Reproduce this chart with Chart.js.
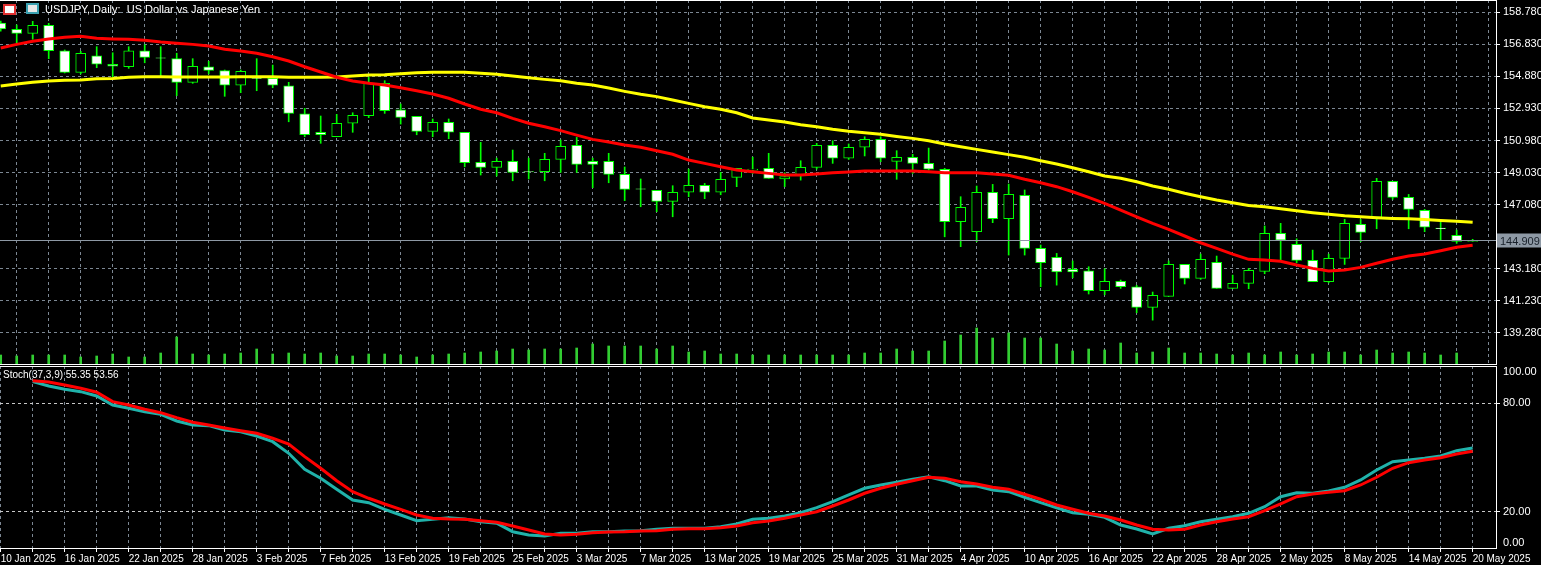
<!DOCTYPE html>
<html>
<head>
<meta charset="utf-8">
<script src="https://cdn.jsdelivr.net/npm/chart.js@4.4.1/dist/chart.umd.min.js"></script>
<style>
    body { margin: 0; background: #000; width: 1541px; height: 565px; overflow: hidden; position: relative; font-family: 'Liberation Sans', Arial, sans-serif; }
    canvas { position: absolute; left: 0; }
    #priceChart { top: 0; }
    #stochChart { top: 366px; }
    .lbl { position: absolute; color: #fff; font-size: 11px; white-space: pre; }
    .ico { position: absolute; width: 13px; height: 11px; box-sizing: border-box; }
</style>
</head>
<body>
<canvas id="priceChart" width="1541" height="365"></canvas>
<canvas id="stochChart" width="1541" height="199"></canvas>
<div class="ico" style="left:3px;top:4px;border:2px solid #e03030;background:#fff;"></div>
<div class="ico" style="left:26px;top:3px;border:2px solid #3aa0b0;background:#e8e8e8;"></div>
<div class="lbl" style="left:45px;top:3px;">USDJPY, Daily:  US Dollar vs Japanese Yen</div>
<div class="lbl" style="left:3px;top:369px;font-size:10px;">Stoch(37,3,9) 55.35 53.56</div>
<script>
// Daily candles, 10 Jan 2025 .. 20 May 2025 (93 bars)
const open = [158.13,157.75,157.50,157.99,156.44,155.13,156.14,155.62,155.47,156.44,
    156.01,155.96,154.52,155.47,155.23,154.34,154.80,154.76,154.31,152.61,
    151.48,151.21,152.03,152.49,154.46,152.84,152.45,151.54,152.09,151.48,
    149.65,149.35,149.71,149.09,149.08,149.83,150.69,149.71,149.71,148.92,
    148.04,147.95,147.28,147.83,148.25,147.83,148.74,149.18,149.29,148.65,
    148.86,149.35,150.69,149.90,150.57,151.05,149.71,149.96,149.59,149.23,
    146.04,145.43,147.83,146.22,147.64,144.42,143.87,143.14,143.05,141.84,
    142.41,142.08,140.83,141.50,143.44,142.59,143.57,141.98,142.29,143.02,
    145.33,144.66,143.69,142.39,143.81,145.88,146.30,148.50,147.52,146.73,
    145.65,145.21,144.84];
const high = [158.25,158.01,158.23,158.11,156.49,156.41,156.69,156.32,156.69,156.81,
    156.69,156.29,155.96,155.80,155.27,155.27,155.96,155.57,154.52,152.94,
    152.47,152.57,152.67,154.83,154.62,153.20,152.45,152.29,152.29,151.48,
    150.87,149.91,150.40,149.91,150.20,151.01,151.17,149.91,150.20,149.37,
    148.64,147.95,148.23,149.24,148.37,149.04,149.29,149.97,150.20,149.02,
    149.75,150.81,150.97,150.77,151.21,151.21,150.36,150.14,150.52,149.29,
    147.56,148.21,148.31,148.33,147.97,144.62,144.11,143.65,143.30,143.18,
    142.49,142.17,141.76,143.65,143.44,144.07,143.95,142.79,143.20,145.78,
    145.94,145.00,144.31,144.07,146.18,146.18,148.68,148.50,147.70,146.79,
    146.04,145.53,144.97];
const low = [157.64,156.93,157.14,155.96,155.09,155.03,155.41,154.86,155.37,155.71,
    154.90,153.71,154.46,155.03,153.67,153.89,154.01,154.19,152.12,151.21,
    150.81,151.21,151.48,152.37,152.63,151.98,151.33,151.21,151.09,149.38,
    148.88,148.82,148.53,148.64,148.53,149.04,149.04,148.11,148.41,147.32,
    146.95,146.65,146.34,147.56,147.44,147.68,148.17,148.98,148.68,148.17,
    148.57,149.24,149.59,149.83,150.04,149.69,148.62,148.98,149.18,145.12,
    144.52,144.82,145.98,144.01,144.01,142.08,142.18,142.63,141.64,141.59,
    141.98,140.50,140.05,141.50,142.25,142.53,141.98,141.98,141.96,142.87,
    143.71,143.54,142.39,142.32,143.44,144.82,145.61,147.40,145.61,145.43,
    144.92,144.72,144.84];
const close = [157.77,157.50,157.99,156.44,155.13,156.29,155.62,155.50,156.44,156.04,
    155.99,154.52,155.50,155.25,154.34,155.19,154.76,154.34,152.63,151.33,
    151.33,152.03,152.51,154.46,152.79,152.39,151.54,152.09,151.48,149.63,
    149.35,149.71,149.04,149.07,149.83,150.63,149.53,149.53,148.92,148.01,
    148.02,147.28,147.83,148.25,147.83,148.62,149.29,149.24,148.68,148.78,
    149.35,150.69,149.90,150.57,151.05,149.90,149.96,149.59,149.23,146.04,
    146.91,147.83,146.22,147.70,144.42,143.54,142.99,142.99,141.84,142.41,
    142.08,140.83,141.56,143.44,142.59,143.75,141.98,142.29,143.08,145.33,
    144.91,143.69,142.39,143.81,145.94,145.39,148.50,147.52,146.79,145.70,
    145.62,144.84,144.91];

// moving averages
const maFast = [156.61,156.83,157.02,157.16,157.26,157.32,157.20,157.16,157.14,157.08,
    156.97,156.90,156.83,156.73,156.53,156.43,156.29,156.08,155.82,155.47,
    155.15,154.83,154.60,154.46,154.36,154.19,154.01,153.81,153.55,153.20,
    152.88,152.67,152.33,152.03,151.82,151.58,151.31,151.05,150.89,150.71,
    150.57,150.36,150.14,149.79,149.59,149.38,149.18,149.08,148.98,148.88,
    148.88,148.94,149.02,149.06,149.12,149.12,149.12,149.12,149.08,149.02,
    149.02,149.02,148.94,148.86,148.62,148.41,148.17,147.86,147.52,147.16,
    146.75,146.34,145.94,145.57,145.17,144.76,144.42,144.07,143.75,143.71,
    143.63,143.40,143.20,143.04,143.10,143.26,143.51,143.75,143.95,144.07,
    144.27,144.48,144.60];
const maSlow = [154.30,154.42,154.52,154.60,154.64,154.66,154.74,154.76,154.83,154.86,
    154.86,154.84,154.84,154.84,154.84,154.86,154.86,154.86,154.83,154.83,
    154.83,154.84,154.90,154.97,154.98,155.04,155.11,155.13,155.13,155.13,
    155.07,155.01,154.90,154.80,154.70,154.62,154.46,154.36,154.17,153.97,
    153.79,153.65,153.44,153.24,153.04,152.88,152.67,152.35,152.23,152.10,
    151.94,151.82,151.66,151.54,151.45,151.36,151.23,151.11,150.97,150.77,
    150.60,150.44,150.28,150.12,149.96,149.75,149.55,149.32,149.08,148.82,
    148.68,148.47,148.21,148.01,147.77,147.56,147.36,147.19,147.03,146.95,
    146.83,146.71,146.59,146.49,146.40,146.34,146.28,146.24,146.22,146.18,
    146.12,146.06,146.00];

// tick volume (thousands)
const volume = [10,9,10,10,10,8,9,11,8,8,12,28,11,10,11,12,16,11,12,11,
    12,9,9,11,11,10,8,10,11,12,13,14,16,15,16,16,17,21,19,19,
    19,16,19,13,14,11,11,10,10,10,10,10,10,10,12,12,16,14,14,24,
    30,37,27,32,27,27,21,14,16,15,22,12,13,17,12,12,11,10,12,10,
    13,10,11,13,13,10,15,12,13,12,10,12,0];

// Stochastic(37,3,9)
const stochMain = [null,null,91.95,89.58,87.76,86.43,84.06,79.09,77.26,75.39,
    73.95,70.25,68.04,67.66,65.28,64.34,61.97,58.82,52.41,43.58,
    38.61,32.53,26.63,25.14,21.49,18.34,15.20,15.97,16.85,16.13,
    14.64,13.76,9.12,7.30,6.75,8.24,8.24,9.12,9.12,9.51,
    9.67,10.45,11.00,11.00,11.00,11.88,13.37,15.97,16.52,17.79,
    19.61,22.37,25.69,29.39,33.09,34.91,36.40,38.06,39.49,37.28,
    34.36,34.36,32.15,31.21,28.12,25.14,22.37,19.61,18.73,17.07,
    12.82,10.61,7.85,11.00,12.43,14.64,15.97,17.40,19.28,22.93,
    28.45,30.66,30.33,31.60,33.64,37.67,43.19,47.78,48.71,49.65,
    50.92,53.85,55.35];
const stochSignal = [null,null,92.50,91.79,90.13,88.31,86.10,80.91,79.09,76.71,
    74.83,72.07,69.53,68.04,66.38,64.89,63.46,60.70,57.55,50.54,
    44.13,37.28,31.21,27.57,24.42,21.49,18.34,16.52,16.13,15.97,
    15.20,14.31,12.27,10.06,7.85,7.30,7.69,8.57,8.96,9.12,
    9.51,9.67,10.45,10.78,10.78,11.33,12.27,14.09,15.03,16.52,
    18.34,20.17,23.31,26.63,30.33,33.09,35.30,37.28,39.16,38.61,
    36.73,35.46,33.64,32.53,29.77,27.01,23.87,21.49,19.28,17.79,
    15.58,12.82,10.45,10.06,10.45,12.82,14.64,16.13,17.40,20.72,
    24.42,28.45,29.94,30.88,31.76,34.91,39.16,44.13,47.22,48.71,
    49.98,52.03,53.56];

const dateLabels = ['10 Jan 2025','16 Jan 2025','22 Jan 2025','28 Jan 2025','3 Feb 2025','7 Feb 2025',
    '13 Feb 2025','19 Feb 2025','25 Feb 2025','3 Mar 2025','7 Mar 2025','13 Mar 2025',
    '19 Mar 2025','25 Mar 2025','31 Mar 2025','4 Apr 2025','10 Apr 2025','16 Apr 2025',
    '22 Apr 2025','28 Apr 2025','2 May 2025','8 May 2025','14 May 2025','20 May 2025'];
const priceTicks = [158.78,156.83,154.88,152.93,150.98,149.03,147.08,143.18,141.23,139.28];
const lastPrice = 144.909;

Chart.defaults.font.family = "'Liberation Sans', Arial, sans-serif";
Chart.defaults.font.size = 11;
Chart.defaults.color = '#fff';

const GREEN = '#00ff00';
const GRID = '#7c8793';
const xMin = -0.044, xMax = 93.46;
const evenTicks = [];
for (let i = 0; i <= 92; i += 2) evenTicks.push({ value: i });

const pts = arr => arr.map((v, i) => ({ x: i, y: v }));

// no label padding: plot area runs edge to edge
const fitY = s => { s.width = 45; s.paddingTop = 0; s.paddingBottom = 0; };
const fitX = h => s => { s.height = h; s.paddingLeft = 0; s.paddingRight = 0; };

// white frame around the plot area
const framePlugin = {
    id: 'frame',
    afterDraw(chart) {
        const a = chart.chartArea, c = chart.ctx;
        c.save();
        c.strokeStyle = '#fff';
        c.lineWidth = 1;
        c.strokeRect(a.left - 0.5, a.top + 0.5, a.right - a.left + 1, a.bottom - a.top - 1);
        c.restore();
    }
};

// bid line with the price box
const bidPlugin = {
    id: 'bid',
    afterDatasetsDraw(chart) {
        const y = Math.round(chart.scales.y.getPixelForValue(lastPrice)) + 0.5;
        const a = chart.chartArea, c = chart.ctx;
        c.save();
        c.strokeStyle = '#8e99a5';
        c.lineWidth = 1;
        c.beginPath(); c.moveTo(a.left, y); c.lineTo(a.right, y); c.stroke();
        c.fillStyle = '#8e99a5';
        c.fillRect(a.right + 1, y - 7, 44, 14);
        c.fillStyle = '#18202a';
        c.font = "11px 'Liberation Sans', Arial";
        c.textBaseline = 'middle';
        c.fillText(lastPrice.toFixed(3), a.right + 4, y + 1);
        c.restore();
    }
};

const gridDash = { display: false, dash: [3, 3] };

const priceCtx = document.getElementById('priceChart').getContext('2d');
new Chart(priceCtx, {
    type: 'bar',
    data: {
        datasets: [
            {
                type: 'line', data: pts(maFast), borderColor: '#ff0000', borderWidth: 3,
                pointRadius: 0, order: 1
            },
            {
                type: 'line', data: pts(maSlow), borderColor: '#ffff00', borderWidth: 3,
                pointRadius: 0, order: 2
            },
            {
                data: close.map((c, i) => ({ x: i, y: [open[i], c] })),
                backgroundColor: close.map((c, i) => c >= open[i] ? '#000' : '#fff'),
                borderColor: GREEN, borderWidth: 1, borderSkipped: false,
                barThickness: 10, grouped: false, order: 3
            },
            {
                data: high.map((h, i) => ({ x: i, y: [low[i], h] })),
                backgroundColor: GREEN, barThickness: 1, grouped: false, order: 4
            },
            {
                data: volume.map((v, i) => ({ x: i, y: v })), yAxisID: 'yv',
                backgroundColor: '#32cd32', barThickness: 2, grouped: false, order: 5
            }
        ]
    },
    options: {
        responsive: false,
        animation: false,
        devicePixelRatio: 1,
        layout: { padding: 0, autoPadding: false },
        plugins: { legend: { display: false }, tooltip: { enabled: false } },
        scales: {
            x: {
                type: 'linear', min: xMin, max: xMax, offset: false,
                afterBuildTicks: s => { s.ticks = evenTicks.slice(); },
                afterFit: fitX(0),
                ticks: { display: false },
                grid: { color: GRID, drawTicks: false },
                border: gridDash
            },
            y: {
                position: 'right', min: 137.32, max: 159.53,
                afterBuildTicks: s => { s.ticks = priceTicks.map(v => ({ value: v })); },
                afterFit: fitY,
                ticks: { callback: v => v.toFixed(3), padding: 3 },
                grid: { color: GRID, tickColor: '#fff', tickLength: 4, tickBorderDash: [0, 0] },
                border: gridDash
            },
            yv: { display: false, min: 0, max: 365 }
        }
    },
    plugins: [framePlugin, bidPlugin]
});

// 100 / 0 labels pinned to the panel edges
const stochEdgePlugin = {
    id: 'stochEdge',
    afterDraw(chart) {
        const a = chart.chartArea, c = chart.ctx;
        c.save();
        c.fillStyle = '#fff';
        c.font = "11px 'Liberation Sans', Arial";
        c.textBaseline = 'middle';
        c.fillText('100.00', a.right + 7, a.top + 6);
        c.fillText('0.00', a.right + 7, a.bottom - 6);
        c.restore();
    }
};

const stochCtx = document.getElementById('stochChart').getContext('2d');
new Chart(stochCtx, {
    type: 'line',
    data: {
        datasets: [
            { data: pts(stochSignal), borderColor: '#ff0000', borderWidth: 3, pointRadius: 0 },
            { data: pts(stochMain), borderColor: '#20b2aa', borderWidth: 3, pointRadius: 0 }
        ]
    },
    options: {
        responsive: false,
        animation: false,
        devicePixelRatio: 1,
        layout: { padding: 0, autoPadding: false },
        plugins: { legend: { display: false }, tooltip: { enabled: false } },
        scales: {
            x: {
                type: 'linear', min: xMin, max: xMax, offset: false,
                afterBuildTicks: s => { s.ticks = evenTicks.slice(); },
                afterFit: fitX(16),
                ticks: {
                    autoSkip: false, maxRotation: 0, align: 'start', padding: 1,
                    font: { size: 10 },
                    callback: v => (v % 4 === 0 ? dateLabels[v / 4] : '')
                },
                grid: { color: GRID, tickColor: '#fff', tickLength: 3, tickBorderDash: [0, 0] },
                border: gridDash
            },
            y: {
                position: 'right', min: -0.43, max: 100.6,
                afterBuildTicks: s => { s.ticks = [{ value: 20 }, { value: 80 }]; },
                afterFit: fitY,
                ticks: { callback: v => v.toFixed(2), padding: 3 },
                grid: { color: '#c8c8c8', tickColor: '#fff', tickLength: 4, tickBorderDash: [0, 0] },
                border: gridDash
            }
        }
    },
    plugins: [framePlugin, stochEdgePlugin]
});
</script>
</body>
</html>
